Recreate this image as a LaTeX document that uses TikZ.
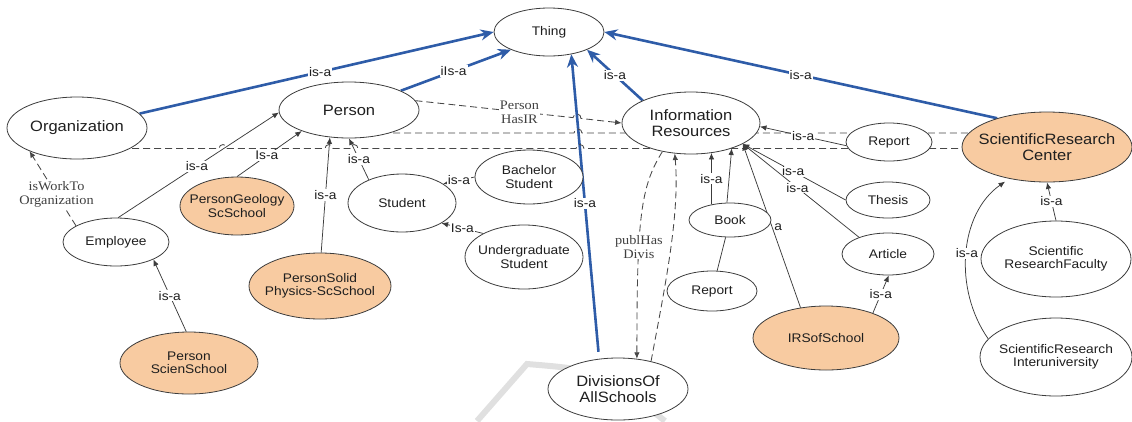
\documentclass[tikz,border=0pt]{standalone}
\usepackage{fontspec}
\setmainfont{Liberation Sans}[FakeStretch=1.1]
\newfontfamily\lblserif{Liberation Serif}[FakeStretch=1.1]
\usetikzlibrary{shapes.geometric,arrows.meta,backgrounds}
\definecolor{peach}{RGB}{248,203,161}
\definecolor{isablue}{RGB}{46,92,168}
\definecolor{edgec}{RGB}{60,60,60}
\begin{document}
\begin{tikzpicture}[x=1pt,y=-1pt,
 tx/.style={align=center, text=black!88, inner sep=0pt, font=\fontsize{12.5}{13.5}\selectfont},
 txb/.style={tx, font=\fontsize{15}{16}\selectfont},
 ent/.style={ellipse, draw=edgec, line width=0.8pt, fill=white, inner sep=0pt, label={[tx]center:#1}},
 entb/.style={ellipse, draw=edgec, line width=0.8pt, fill=white, inner sep=0pt, label={[txb]center:#1}},
 hl/.style={fill=peach},
 sz/.style 2 args={minimum width=#1, minimum height=#2},
 thingedge/.style={draw=isablue, line width=2.6pt, -{Stealth[length=13pt,width=11pt]}},
 subedge/.style={draw=edgec, line width=0.75pt, -{Latex[length=6.5pt,width=5.5pt]}},
 plain/.style={draw=edgec, line width=0.75pt},
 dl/.style={draw=black!72, line width=0.85pt, dash pattern=on 7pt off 4pt},
 dtip/.style={-{Latex[length=6.5pt,width=5.5pt]}},
 lbl/.style={fill=white, inner sep=1pt, text=black!88, font=\fontsize{12.5}{13.5}\selectfont},
 slbl/.style={fill=white, inner sep=1pt, text=black!75, align=center, font=\lblserif\fontsize{13}{14}\selectfont},
]
\useasboundingbox (0,0) rectangle (1132,421);

% nodes
\node[ent=Thing, sz={110pt}{48pt}] (Thing) at (549,32) {};
\node[entb=Organization, sz={140pt}{62pt}] (Org) at (77,128) {};
\node[entb=Person, sz={140pt}{56pt}] (Person) at (349,110) {};
\node[entb={Information\\Resources}, sz={138pt}{62pt}] (Info) at (691,123) {};
\node[entb={ScientificResearch\\Center}, hl, sz={170pt}{70pt}] (SRC) at (1047,147) {};
\node[ent=Report, sz={86pt}{38pt}] (RepT) at (889,142) {};
\node[ent=Thesis, sz={84pt}{36pt}] (Thesis) at (888,200) {};
\node[ent=Article, sz={92pt}{42pt}] (Article) at (888,254) {};
\node[ent=IRSofSchool, hl, sz={146pt}{64pt}] (IRS) at (826,338) {};
\node[ent={Scientific\\ResearchFaculty}, sz={150pt}{76pt}] (SRF) at (1056,259) {};
\node[ent={ScientificResearch\\Interuniversity}, sz={152pt}{78pt}] (SRI) at (1056,357) {};
\node[ent=Book, sz={82pt}{34pt}] (Book) at (730,220) {};
\node[ent=Report, sz={90pt}{40pt}] (RepB) at (712,291) {};
\node[entb={DivisionsOf\\AllSchools}, sz={140pt}{62pt}] (Div) at (618,389) {};
\node[ent={Undergraduate\\Student}, sz={118pt}{64pt}] (Under) at (524,257) {};
\node[ent={Bachelor\\Student}, sz={108pt}{54pt}] (Bach) at (529,177) {};
\node[ent=Student, sz={108pt}{58pt}] (Student) at (402,203) {};
\node[ent={PersonGeology\\ScSchool}, hl, sz={114pt}{58pt}] (PGeo) at (237,206) {};
\node[ent=Employee, sz={106pt}{48pt}] (Emp) at (116,242) {};
\node[ent={PersonSolid\\Physics-ScSchool}, hl, sz={142pt}{66pt}] (PSolid) at (320,286) {};
\node[ent={Person\\ScienSchool}, hl, sz={138pt}{62pt}] (PScien) at (189,363) {};

\begin{pgfonlayer}{background}
% faint watermark stroke
\draw[line width=6pt, draw=black!12] (477,421) -- (527,364) .. controls (600,370) .. (665,421);

% is-a links to Thing
\draw[thingedge] (Org) -- node[lbl,pos=0.51]{is-a} (Thing.west);
\draw[thingedge] (Person) -- node[lbl,pos=0.48]{iIs-a} (Thing.205);
\draw[thingedge, shorten <=7pt] (Div.122) -- node[lbl,pos=0.51]{is-a} (Thing.-45);
\draw[thingedge] (Info.155) -- node[lbl,pos=0.5]{is-a} (Thing.-25);
\draw[thingedge] (SRC.150) -- node[lbl,pos=0.5]{is-a} (Thing.east);

% long dashed relations
\draw[dl] (Org.center |- 0,148.5) -- (219,148.5) arc[start angle=180,end angle=0,radius=4pt]
  -- (325,148.5) arc[start angle=180,end angle=0,radius=4pt]
  -- (350,148.5) arc[start angle=180,end angle=0,radius=4pt]
  -- (576,148.5) arc[start angle=180,end angle=0,radius=4pt]
  -- (SRC.center |- 0,148.5);
\draw[dl] (Person.center |- 0,133) -- (574,133) arc[start angle=180,end angle=0,radius=4pt]
  -- (SRC.center |- 0,133);
\draw[dl,dtip] (Person.8) -- node[slbl,pos=0.66]{Person\\HasIR} (573,117.6)
  arc[start angle=174,end angle=-6,radius=4pt] -- (Info.west);
\draw[dl,dtip] (Emp.158) -- node[slbl,pos=0.42]{isWorkTo\\Organization} (Org.206);
\draw[dl,dtip] (Info.-135) .. controls +(-22,35) and +(0,-140) .. node[slbl,pos=0.65]{publHas\\Divis} (Div.58);
\draw[dl,dtip] (Div.40) .. controls +(15,-80) and +(5,60) .. (Info.-118);

% left side is-a
\draw[subedge] (Emp.85) -- node[lbl,pos=0.49]{is-a} (Person.182);
\draw[subedge] (PGeo.north) -- node[lbl,pos=0.46]{Is-a} (Person.204);
\draw[subedge] (PSolid.88) -- node[lbl,pos=0.5]{is-a} (Person.235);
\draw[subedge] (Student.145) -- node[lbl,pos=0.5]{is-a} (Person.south);
\draw[subedge] (Bach.west) -- node[lbl,pos=0.5]{is-a} (Student.25);
\draw[subedge] (Under.150) -- node[lbl,pos=0.5]{Is-a} (Student.-27);
\draw[subedge] (PScien.95) -- node[lbl,pos=0.5]{is-a} (Emp.-25);

% right side is-a
\draw[subedge] (Book.140) -- node[lbl,pos=0.5]{is-a} (Book.140 |- Info.-55);
\draw[subedge] (Book.100) -- (Info.-32);
\draw[plain] (RepB) -- (Book);
\draw[subedge] (IRS.130) -- node[lbl,fill=none,inner sep=0pt,pos=0.49,xshift=6pt]{a} (Info.-22);
\draw[subedge] (Thesis.west) -- node[lbl,pos=0.51]{is-a} (Info.-22);
\draw[subedge] (Article.150) -- node[lbl,pos=0.53]{is-a} (Info.-22);
\draw[subedge] (RepT.185) -- node[lbl,pos=0.5]{is-a} (Info.-3);
\draw[subedge] (IRS.28) -- node[lbl,pos=0.5]{is-a} (Article.-88);
\draw[subedge] (SRF.north) -- node[lbl,pos=0.5]{is-a} (SRC.south);
\draw[subedge, shorten >=5pt] (SRI.165) .. controls +(-35,-50) and +(-50,35) .. node[lbl,pos=0.5]{is-a} (SRC.-140);
\end{pgfonlayer}
\end{tikzpicture}
\end{document}
